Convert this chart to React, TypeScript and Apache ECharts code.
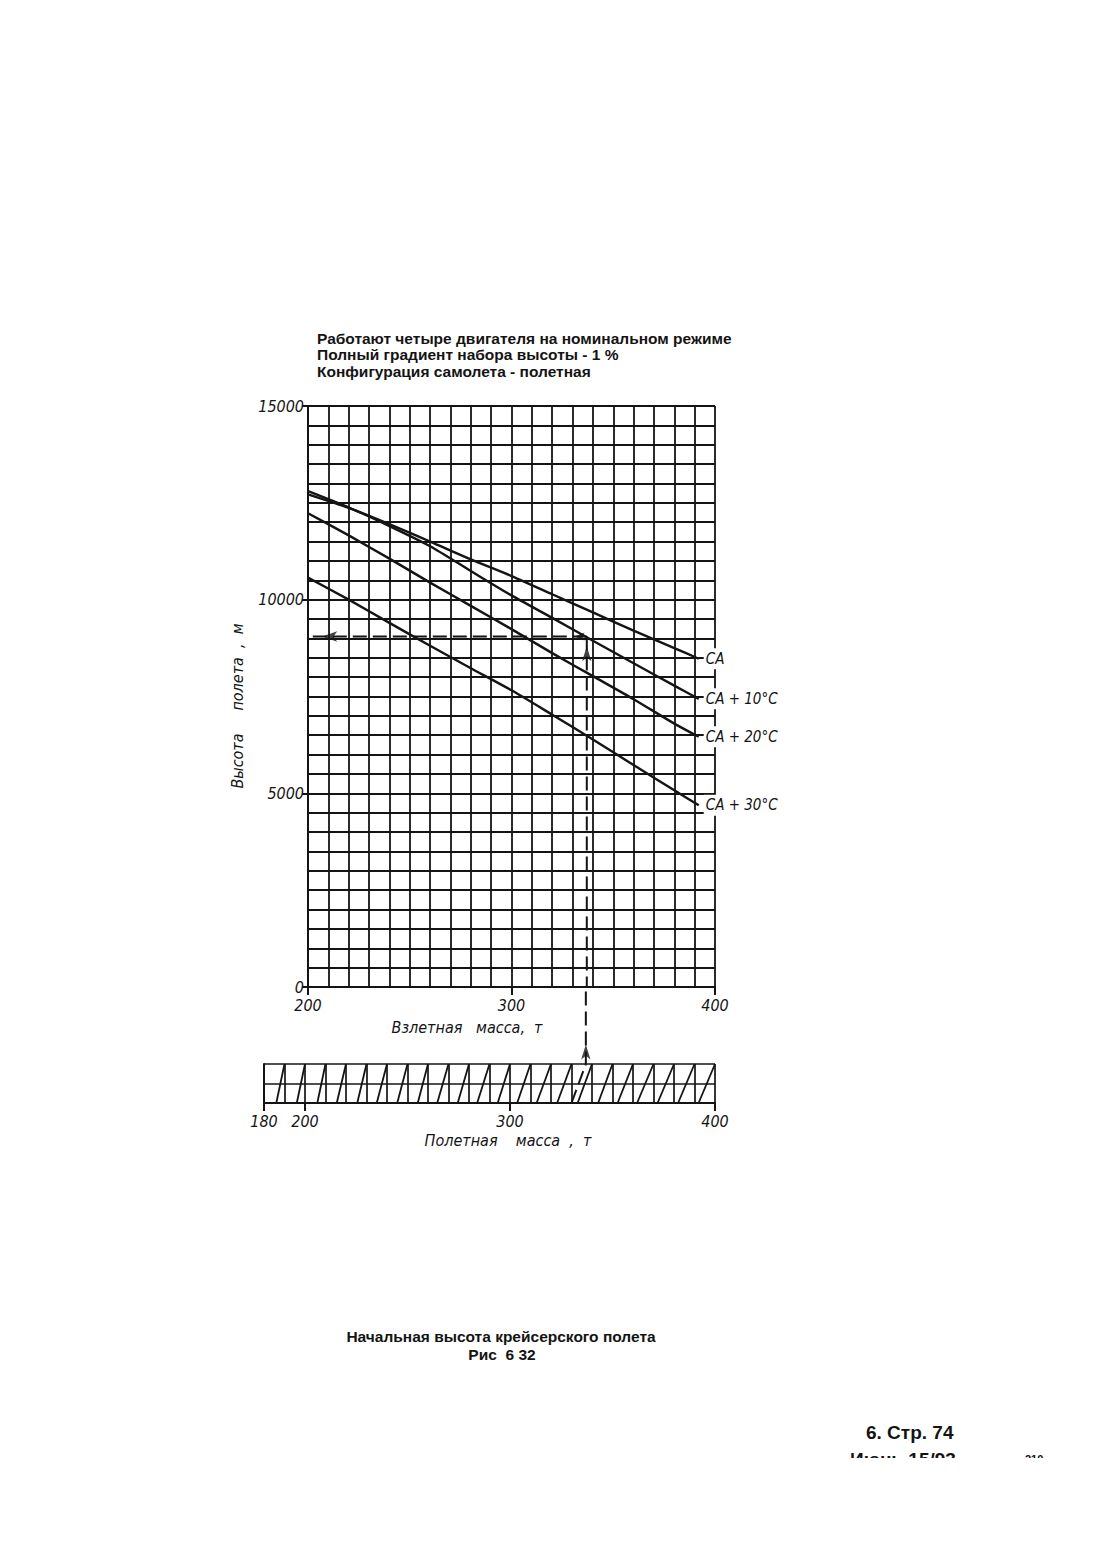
import React, { useEffect, useRef } from "react";
import * as echarts from "echarts";

// Main chart: takeoff mass (t) vs. initial cruise altitude (m)
const takeoffMass = [200, 220, 240, 260, 280, 300, 320, 340, 360, 380, 392];
const altCA = [12720, 12370, 11950, 11500, 11040, 10610, 10140, 9670, 9200, 8750, 8475];
const altCA10 = [12800, 12380, 11900, 11380, 10740, 10110, 9530, 8940, 8360, 7780, 7440];
const altCA20 = [12230, 11660, 11060, 10440, 9840, 9240, 8620, 8025, 7430, 6800, 6460];
const altCA30 = [10570, 10000, 9400, 8810, 8230, 7660, 7030, 6390, 5730, 5080, 4690];
const curveNames = ["СА", "СА + 10°С", "СА + 20°С", "СА + 30°С"];

const yTickLabels = [0, 5000, 10000, 15000];
const xTickLabels = [200, 300, 400];

// Example (dashed) path
const exampleTakeoff = 337;
const exampleAlt = 9050;
const exampleFlight = 330;

// Conversion scale: flight mass (bottom) to takeoff mass (top)
const scaleTops = [190, 200, 210, 220, 230, 240, 250, 260, 270, 280, 290, 300, 310, 320, 330, 340, 350, 360, 370, 380, 390, 400];
const scaleBottoms = [186, 196, 206, 215.5, 225.5, 235, 245, 255, 264.5, 274.5, 284, 294, 303.5, 313, 323, 333, 343, 352.5, 362, 372, 382, 392];
const scaleTickLabels = [180, 200, 300, 400];

const INK = "#141414";
const ITALIC_FONT = "'DejaVu Sans Condensed', 'DejaVu Sans', sans-serif";
const BOLD_FONT = "'Liberation Sans', Arial, sans-serif";

export default function App() {
  const ref = useRef<HTMLDivElement>(null);

  useEffect(() => {
    if (!ref.current) return;
    const chart = echarts.init(ref.current, undefined, { renderer: "svg" });

    const curves = [altCA, altCA10, altCA20, altCA30].map((alt, i) => ({
      type: "line",
      name: curveNames[i],
      xAxisIndex: 0,
      yAxisIndex: 0,
      data: takeoffMass.map((m, j) => [m, alt[j]]),
      smooth: 0.25,
      symbol: "none",
      lineStyle: { color: INK, width: 2.4 },
      z: 5,
      endLabel: {
        show: true,
        formatter: () => curveNames[i],
        distance: 5,
        color: INK,
        fontStyle: "italic",
        fontSize: 15,
        fontFamily: ITALIC_FONT,
        backgroundColor: "#ffffff",
        padding: [3, 2, 3, 2],
      },
    }));

    const dashStyle = { color: INK, width: 2, type: [14, 6] as any };
    const plain = (v: number) => String(v);

    const option: any = {
      animation: false,
      backgroundColor: "#ffffff",
      grid: [
        { left: 308, top: 406, width: 407, height: 581 },
        { left: 264, top: 1064, width: 451, height: 39 },
      ],
      xAxis: [
        {
          gridIndex: 0, type: "value", min: 200, max: 400, interval: 10, position: "bottom",
          axisLine: { show: true, onZero: false, lineStyle: { color: INK, width: 2 } },
          axisTick: { show: false }, axisLabel: { show: false },
          splitLine: { show: true, lineStyle: { color: INK, width: 1.8 } },
        },
        {
          gridIndex: 0, type: "value", min: 200, max: 400, interval: 100, position: "bottom",
          axisLine: { show: false, onZero: false },
          axisTick: { show: true, length: 8, lineStyle: { color: INK, width: 2 } },
          axisLabel: { show: true, margin: 10, color: INK, fontSize: 16, fontStyle: "italic", fontFamily: ITALIC_FONT, customValues: xTickLabels, formatter: plain },
          splitLine: { show: false },
        },
        {
          gridIndex: 1, type: "value", min: 180, max: 400, interval: 10, position: "bottom",
          axisLine: { show: true, onZero: false, lineStyle: { color: INK, width: 2 } },
          axisTick: { show: false }, axisLabel: { show: false },
          splitLine: { show: true, lineStyle: { color: INK, width: 1.7 } },
        },
        {
          gridIndex: 1, type: "value", min: 180, max: 400, interval: 10, position: "bottom",
          axisLine: { show: false, onZero: false },
          axisTick: { show: true, length: 8, customValues: scaleTickLabels, lineStyle: { color: INK, width: 2 } },
          axisLabel: { show: true, margin: 10, color: INK, fontSize: 16, fontStyle: "italic", fontFamily: ITALIC_FONT, customValues: scaleTickLabels, formatter: plain },
          splitLine: { show: false },
        },
      ],
      yAxis: [
        {
          gridIndex: 0, type: "value", min: 0, max: 15000, interval: 500, position: "left",
          axisLine: { show: true, onZero: false, lineStyle: { color: INK, width: 2 } },
          axisTick: { show: false }, axisLabel: { show: false },
          splitLine: { show: true, lineStyle: { color: INK, width: 1.8 } },
        },
        {
          gridIndex: 0, type: "value", min: 0, max: 15000, interval: 5000, position: "left",
          axisLine: { show: false, onZero: false },
          axisTick: { show: true, length: 6, lineStyle: { color: INK, width: 2 } },
          axisLabel: { show: true, margin: 4, color: INK, fontSize: 16, fontStyle: "italic", fontFamily: ITALIC_FONT, customValues: yTickLabels, formatter: plain },
          splitLine: { show: false },
        },
        {
          gridIndex: 1, type: "value", min: 0, max: 2, interval: 1, position: "left",
          axisLine: { show: true, onZero: false, lineStyle: { color: INK, width: 2 } },
          axisTick: { show: false }, axisLabel: { show: false },
          splitLine: { show: true, lineStyle: { color: INK, width: 1.7 } },
        },
      ],
      series: [
        ...curves,
        {
          type: "line", xAxisIndex: 0, yAxisIndex: 0, symbol: "none", z: 4,
          data: [[exampleTakeoff, exampleAlt], [200.5, exampleAlt]],
          lineStyle: dashStyle,
        },
        {
          type: "line", xAxisIndex: 0, yAxisIndex: 0, symbol: "none", z: 4,
          data: [[exampleTakeoff, exampleAlt], [exampleTakeoff, 0]],
          lineStyle: dashStyle,
        },
        {
          type: "scatter", xAxisIndex: 0, yAxisIndex: 0, symbol: "arrow", z: 6, clip: false,
          itemStyle: { color: INK },
          data: [
            { value: [207, exampleAlt], symbolRotate: 90, symbolSize: [8, 15] },
            { value: [331, exampleAlt], symbolRotate: 90, symbolSize: [6, 10] },
            { value: [exampleTakeoff, 8800], symbolRotate: 0, symbolSize: [7, 15] },
          ],
        },
        {
          type: "lines", coordinateSystem: "cartesian2d", xAxisIndex: 2, yAxisIndex: 2, z: 4,
          lineStyle: { color: INK, width: 1.8, opacity: 1 },
          data: scaleTops.map((t, i) => ({ coords: [[scaleBottoms[i], 0], [t, 2]] })),
        },
        {
          type: "line", xAxisIndex: 2, yAxisIndex: 2, symbol: "none", z: 4, clip: false,
          data: [[exampleFlight, 0], [exampleTakeoff, 2], [exampleTakeoff, 5.95]],
          lineStyle: dashStyle,
        },
        {
          type: "scatter", xAxisIndex: 2, yAxisIndex: 2, symbol: "arrow", z: 6, clip: false,
          itemStyle: { color: INK },
          data: [{ value: [exampleTakeoff, 3.0], symbolRotate: 0, symbolSize: [7, 15] }],
        },
      ],
      graphic: [
        { type: "text", x: 317, y: 338, style: { text: "Работают четыре двигателя на номинальном режиме", fill: INK, font: `bold 15.5px ${BOLD_FONT}`, textVerticalAlign: "middle" } },
        { type: "text", x: 317, y: 354, style: { text: "Полный градиент набора высоты - 1 %", fill: INK, font: `bold 15.5px ${BOLD_FONT}`, textVerticalAlign: "middle" } },
        { type: "text", x: 317, y: 371, style: { text: "Конфигурация самолета - полетная", fill: INK, font: `bold 15.5px ${BOLD_FONT}`, textVerticalAlign: "middle" } },
        { type: "text", x: 237, y: 706, rotation: Math.PI / 2, style: { text: "Высота     полета  ,  м", fill: INK, font: `italic 16px ${ITALIC_FONT}`, textAlign: "center", textVerticalAlign: "middle" } },
        { type: "text", x: 467, y: 1027, style: { text: "Взлетная   масса,  т", fill: INK, font: `italic 16px ${ITALIC_FONT}`, textAlign: "center", textVerticalAlign: "middle" } },
        { type: "text", x: 508, y: 1140, style: { text: "Полетная    масса  ,  т", fill: INK, font: `italic 16px ${ITALIC_FONT}`, textAlign: "center", textVerticalAlign: "middle" } },
        { type: "text", x: 501, y: 1336, style: { text: "Начальная высота крейсерского полета", fill: INK, font: `bold 15.5px ${BOLD_FONT}`, textAlign: "center", textVerticalAlign: "middle" } },
        { type: "text", x: 502, y: 1354, style: { text: "Рис  6 32", fill: INK, font: `bold 15.5px ${BOLD_FONT}`, textAlign: "center", textVerticalAlign: "middle" } },
        { type: "text", x: 866, y: 1432, style: { text: "6. Стр. 74", fill: INK, font: `bold 19px ${BOLD_FONT}`, textVerticalAlign: "middle" } },
        { type: "text", x: 850, y: 1459, z: 10, style: { text: "Июнь 15/93", fill: INK, font: `bold 19px ${BOLD_FONT}`, textVerticalAlign: "middle" } },
        { type: "text", x: 1025, y: 1459, z: 10, style: { text: "210", fill: INK, font: `bold 11px ${BOLD_FONT}`, textVerticalAlign: "middle" } },
        { type: "rect", z: 20, shape: { x: 800, y: 1458, width: 313, height: 107 }, style: { fill: "#ffffff" } },
      ],
    };

    chart.setOption(option);
    return () => chart.dispose();
  }, []);

  return (
    <div
      ref={ref}
      style={{ position: "fixed", left: 0, top: 0, width: 1113, height: 1565, background: "#ffffff" }}
    />
  );
}
